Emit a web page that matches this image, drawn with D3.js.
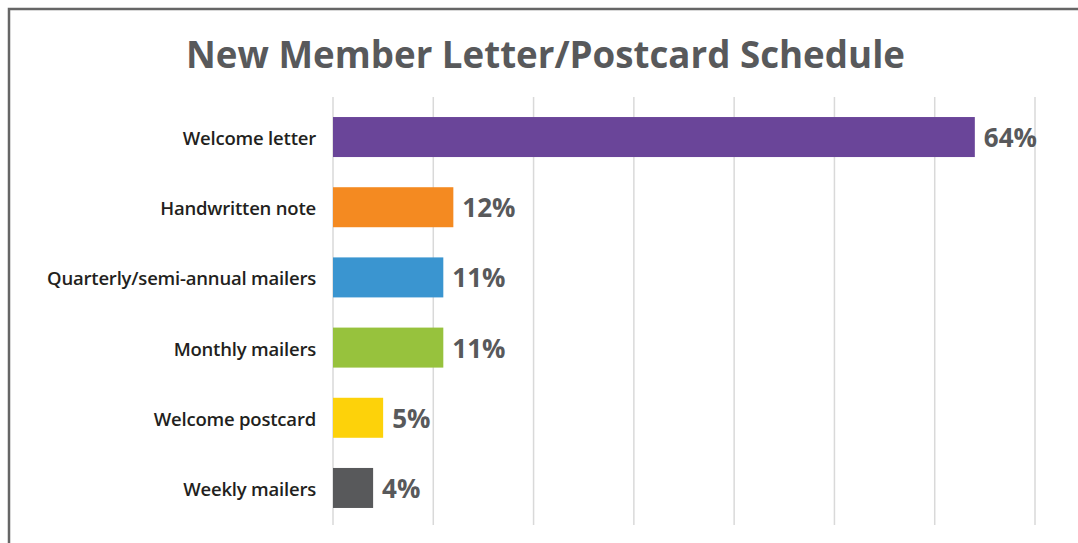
<!DOCTYPE html>
<meta charset="utf-8">
<script src="https://d3js.org/d3.v7.min.js"></script>
<style>
  body { margin: 0; background: #fff; }
  svg { display: block; }
</style>
<div id="my_dataviz"></div>
<script>
  // data
  var categories = ["Welcome letter", "Handwritten note", "Quarterly/semi-annual mailers",
    "Monthly mailers", "Welcome postcard", "Weekly mailers"];
  var values = [64, 12, 11, 11, 5, 4];
  var colors = ["#6a4599", "#f48a21", "#3a95d0", "#97c23d", "#fdd20a", "#58595b"];
  var xTicks = [0, 10, 20, 30, 40, 50, 60, 70];

  var W = 1078, H = 543;
  var svg = d3.select("#my_dataviz").append("svg").attr("width", W).attr("height", H);

  // outer frame (runs off the right/bottom edge)
  svg.append("rect").attr("x", 9).attr("y", 9).attr("width", W + 20).attr("height", H + 20)
    .attr("fill", "none").attr("stroke", "#666").attr("stroke-width", 2.5);

  // title
  svg.append("text").attr("x", 545.5).attr("y", 68).attr("text-anchor", "middle")
    .style("font-family", "'Open Sans', sans-serif").style("font-weight", 700)
    .style("font-size", "37px").attr("fill", "#58595b")
    .attr("textLength", 719).attr("lengthAdjust", "spacingAndGlyphs")
    .text("New Member Letter/Postcard Schedule");

  var x = d3.scaleLinear().domain([0, 70]).range([333, 1035]);
  var y = d3.scaleBand().domain(categories).range([103, 522]).paddingInner(0.43).paddingOuter(0.2);

  // vertical gridlines
  svg.append("g").selectAll("line").data(xTicks).enter().append("line")
    .attr("x1", function(d) { return x(d); }).attr("x2", function(d) { return x(d); })
    .attr("y1", 97).attr("y2", 525)
    .attr("stroke", "#d9d9d9").attr("stroke-width", 1.5);

  var rows = categories.map(function(c, i) { return { cat: c, value: values[i], color: colors[i] }; });

  // bars
  svg.append("g").selectAll("rect").data(rows).enter().append("rect")
    .attr("x", x(0))
    .attr("y", function(d) { return y(d.cat); })
    .attr("width", function(d) { return x(d.value) - x(0); })
    .attr("height", y.bandwidth())
    .attr("fill", function(d) { return d.color; });

  // category labels
  svg.append("g").selectAll("text").data(rows).enter().append("text")
    .attr("x", 316)
    .attr("y", function(d) { return y(d.cat) + y.bandwidth() / 2 + 8; })
    .attr("text-anchor", "end")
    .style("font-family", "'Open Sans', sans-serif").style("font-weight", 600)
    .style("font-size", "18.5px").style("letter-spacing", "-0.2px").attr("fill", "#231f20")
    .text(function(d) { return d.cat; });

  // value labels
  svg.append("g").selectAll("text").data(rows).enter().append("text")
    .attr("x", function(d) { return x(d.value) + 9; })
    .attr("y", function(d) { return y(d.cat) + y.bandwidth() / 2 + 10; })
    .style("font-family", "'Open Sans', sans-serif").style("font-weight", 700)
    .style("font-size", "26px").attr("fill", "#58595b")
    .text(function(d) { return d.value + "%"; });
</script>
